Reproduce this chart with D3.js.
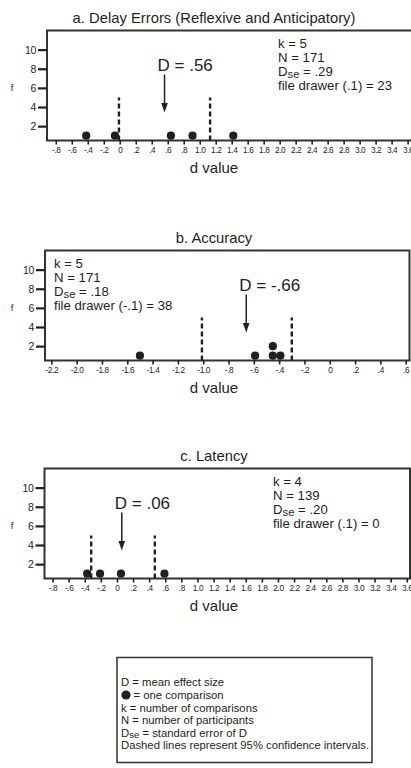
<!DOCTYPE html>
<html><head><meta charset="utf-8">
<script src="https://cdn.jsdelivr.net/npm/d3@7/dist/d3.min.js"></script>
<style>
html,body{margin:0;padding:0;background:#fff;}
svg{display:block;}
text{font-family:"Liberation Sans",Arial,Helvetica,sans-serif;fill:#231f20;}
</style></head>
<body>
<svg id="chart" width="411" height="768"></svg>
<script>
// ---------- data ----------
const panelTitles = ["a. Delay Errors (Reflexive and Anticipatory)", "b. Accuracy", "c. Latency"];
const yTicks = [2, 4, 6, 8, 10];

const ticksA = [-0.8,-0.6,-0.4,-0.2,0,0.2,0.4,0.6,0.8,1.0,1.2,1.4,1.6,1.8,2.0,2.2,2.4,2.6,2.8,3.0,3.2,3.4,3.6];
const ticksB = [-2.2,-2.0,-1.8,-1.6,-1.4,-1.2,-1.0,-0.8,-0.6,-0.4,-0.2,0,0.2,0.4,0.6];
const ticksC = ticksA;

const pointsA = [-0.42, -0.06, 0.64, 0.91, 1.42];
const stackA  = [1, 1, 1, 1, 1];
const pointsB = [-1.50, -0.59, -0.45, -0.45, -0.39];
const stackB  = [1, 1, 1, 2, 1];
const pointsC = [-0.37, -0.21, 0.05, 0.59];
const stackC  = [1, 1, 1, 1];

const ciA = [-0.01, 1.13];
const ciB = [-1.01, -0.30];
const ciC = [-0.32, 0.47];

const meanA = 0.56, meanB = -0.66, meanC = 0.06;
const meanLabels = ["D = .56", "D = -.66", "D = .06"];

const statsA = ["k = 5", "N = 171", "Dse = .29", "file drawer (.1) = 23"];
const statsB = ["k = 5", "N = 171", "Dse = .18", "file drawer (-.1) = 38"];
const statsC = ["k = 4", "N = 139", "Dse = .20", "file drawer (.1) = 0"];

const legendLines = ["D = mean effect size", "●= one comparison", "k = number of comparisons",
  "N = number of participants", "Dse = standard error of D", "Dashed lines represent 95% confidence intervals."];

// ---------- layout ----------
const ink = "#231f20";
const svg = d3.select("#chart");

const panels = [
  {title: panelTitles[0], ticks: ticksA, pts: pointsA, stack: stackA, ci: ciA, mean: meanA, meanLabel: meanLabels[0], stats: statsA,
   left: 47, right: 420, top: 30.5, bottom: 140.5, xdom: [-0.91, 3.755], statsX: 278},
  {title: panelTitles[1], ticks: ticksB, pts: pointsB, stack: stackB, ci: ciB, mean: meanB, meanLabel: meanLabels[1], stats: statsB,
   left: 45, right: 409.5, top: 250.5, bottom: 360.5, xdom: [-2.25, 0.63], statsX: 54},
  {title: panelTitles[2], ticks: ticksC, pts: pointsC, stack: stackC, ci: ciC, mean: meanC, meanLabel: meanLabels[2], stats: statsC,
   left: 44.5, right: 410, top: 468.5, bottom: 578.5, xdom: [-0.9, 3.64], statsX: 273}
];

function fmt(v){
  if (Math.abs(v) < 1e-9) return "0";
  if (Math.abs(v) < 1) { const s = v.toFixed(1); return s.replace("0.", "."); }
  return v.toFixed(1);
}

function dseText(sel, str, x, y, fs){
  const t = sel.append("text").attr("x", x).attr("y", y).attr("font-size", fs);
  if (str.startsWith("Dse")) {
    t.append("tspan").text("D");
    t.append("tspan").attr("font-size", fs*0.85).attr("dy", 1.5).text("se");
    t.append("tspan").attr("dy", -1.5).text(str.slice(3));
  } else t.text(str);
  return t;
}

panels.forEach(p => {
  const g = svg.append("g");
  const x = d3.scaleLinear().domain(p.xdom).range([p.left, p.right]);
  const y = d3.scaleLinear().domain([0.5, 12]).range([p.bottom, p.top]);

  g.append("text").attr("x", 214).attr("y", p.top - 8).attr("text-anchor", "middle")
    .attr("font-size", 14.8).text(p.title);

  g.append("rect").attr("x", p.left).attr("y", p.top)
    .attr("width", p.right - p.left).attr("height", p.bottom - p.top)
    .attr("fill", "none").attr("stroke", "#333").attr("stroke-width", 2);

  const yAxis = d3.axisLeft(y).tickValues(yTicks).tickSize(9).tickPadding(2).tickFormat(d3.format("d"));
  const ya = g.append("g").attr("transform", `translate(${p.left},0)`).call(yAxis);
  ya.select(".domain").remove();
  ya.selectAll(".tick line").attr("stroke", ink).attr("stroke-width", 2.2);
  ya.selectAll(".tick text").attr("font-size", 10.5).attr("fill", ink).attr("letter-spacing", -0.3)
    .style("font-family", '"Liberation Sans",Arial,sans-serif');

  g.append("text").attr("x", 12).attr("y", y(6) + 3).attr("font-size", 9.5).attr("text-anchor", "middle").text("f");

  const xAxis = d3.axisBottom(x).tickValues(p.ticks).tickSize(4).tickPadding(3).tickFormat(fmt);
  const xa = g.append("g").attr("transform", `translate(0,${p.bottom})`).call(xAxis);
  xa.select(".domain").remove();
  xa.selectAll(".tick line").attr("stroke", ink).attr("stroke-width", 1.6);
  xa.selectAll(".tick text").attr("font-size", 8.3).attr("fill", ink).attr("letter-spacing", -0.4)
    .style("font-family", '"Liberation Sans",Arial,sans-serif');

  g.append("text").attr("x", 214).attr("y", p.bottom + 32.5).attr("text-anchor", "middle")
    .attr("font-size", 15).text("d value");

  g.selectAll("line.ci").data(p.ci).enter().append("line").attr("class", "ci")
    .attr("x1", d => x(d)).attr("x2", d => x(d))
    .attr("y1", y(0.5)).attr("y2", y(5))
    .attr("stroke", ink).attr("stroke-width", 2.4).attr("stroke-dasharray", "5,3");

  g.selectAll("circle.pt").data(p.pts).enter().append("circle").attr("class", "pt")
    .attr("cx", d => x(d)).attr("cy", (d, i) => y(p.stack[i]))
    .attr("r", 4.1).attr("fill", ink);

  const ax = x(p.mean);
  const tipY = p.bottom - 28, topY = p.bottom - 66;
  g.append("line").attr("x1", ax).attr("x2", ax).attr("y1", topY).attr("y2", tipY - 7)
    .attr("stroke", ink).attr("stroke-width", 1.5);
  g.append("path").attr("d", `M${ax - 3.3},${tipY - 9.5} L${ax + 3.3},${tipY - 9.5} L${ax},${tipY} Z`).attr("fill", ink);
  g.append("text").attr("x", ax - 7).attr("y", p.bottom - 70).attr("font-size", 17).text(p.meanLabel);

  p.stats.forEach((s, i) => {
    dseText(g, s, p.statsX, p.top + 17.5 + i * 14, 13.2);
  });
});

// ---------- legend ----------
const lg = svg.append("g");
lg.append("rect").attr("x", 117).attr("y", 657.5).attr("width", 255).attr("height", 105)
  .attr("fill", "none").attr("stroke", "#333").attr("stroke-width", 1.5);
const lgY = [685.5, 699, 711.5, 724, 736.5, 749];
legendLines.forEach((s, i) => {
  if (s.startsWith("●")) {
    lg.append("circle").attr("cx", 126).attr("cy", lgY[i] - 4).attr("r", 4.6).attr("fill", ink);
    lg.append("text").attr("x", 133.5).attr("y", lgY[i]).attr("font-size", 11.3).text(s.slice(1));
  } else {
    dseText(lg, s, 121, lgY[i], 11.3);
  }
});
</script>
</body></html>
